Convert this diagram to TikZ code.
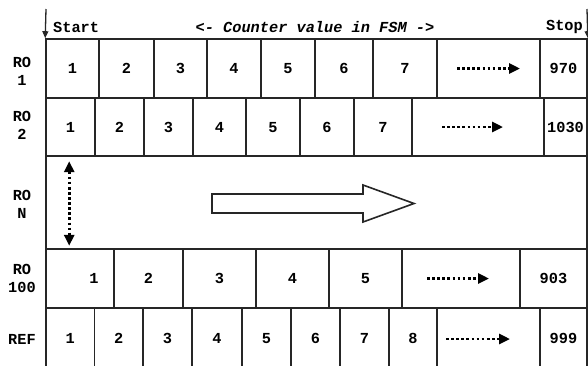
\documentclass[tikz,border=0pt]{standalone}
\usepackage{fontspec}
\setmonofont{Liberation Mono}
\usetikzlibrary{arrows.meta}

\begin{document}
\begin{tikzpicture}[x=1pt,y=1pt]
\tikzstyle{every node}+=[inner sep=0pt, font=\ttfamily\bfseries\fontsize{15.3}{18}\selectfont]
\tikzstyle{cell}=[draw=black!85, line width=1.6pt, minimum height=59, text height=10pt, text depth=0pt]
\tikzstyle{rowname}=[align=center]
\tikzstyle{dotarrow}=[black, line width=2.7pt, dash pattern=on 2.7pt off 2.4pt, -{Triangle[length=11pt,width=10pt]}]
\tikzstyle{startstop}=[black!85, line width=1.3pt, -{Triangle[length=7pt,width=6pt]}]
\useasboundingbox (0,0) rectangle (588,-365);
\fill [white] (0,0) rectangle (588,-365);
\node (start) [anchor=west] at (53,-27) {Start};
\node (title) at (315,-27) {\itshape <- Counter value in FSM ->};
\node (stop) [anchor=east] at (583,-27) {Stop};
\node (ro1) [rowname] at (22,-71) {RO\\1};
\node (ro2) [rowname] at (22,-125) {RO\\2};
\node (ron) [rowname] at (22,-204) {RO\\N};
\node (ro100) [rowname] at (22,-278) {RO\\100};
\node (ref) [rowname] at (22,-339) {REF};
\node (a1) [cell, minimum width=53] at (72.5,-68.5) {1};
\node (a2) [cell, minimum width=55] at (126.5,-68.5) {2};
\node (a3) [cell, minimum width=53] at (180.5,-68.5) {3};
\node (a4) [cell, minimum width=54] at (234,-68.5) {4};
\node (a5) [cell, minimum width=54] at (288,-68.5) {5};
\node (a6) [cell, minimum width=58] at (344,-68.5) {6};
\node (a7) [cell, minimum width=64] at (405,-68.5) {7};
\node (a8) [cell, minimum width=103] at (488.5,-68.5) {};
\node (a9) [cell, minimum width=47] at (563.5,-68.5) {970};
\node (b1) [cell, minimum width=49, minimum height=58] at (70.5,-127) {1};
\node (b2) [cell, minimum width=49, minimum height=58] at (119.5,-127) {2};
\node (b3) [cell, minimum width=49, minimum height=58] at (168.5,-127) {3};
\node (b4) [cell, minimum width=53, minimum height=58] at (219.5,-127) {4};
\node (b5) [cell, minimum width=54, minimum height=58] at (273,-127) {5};
\node (b6) [cell, minimum width=54, minimum height=58] at (327,-127) {6};
\node (b7) [cell, minimum width=58, minimum height=58] at (383,-127) {7};
\node (b8) [cell, minimum width=132, minimum height=58] at (478,-127) {};
\node (b9) [cell, minimum width=43, minimum height=58] at (565.5,-127) {1030};
\node (n1) [cell, minimum width=541, minimum height=93] at (316.5,-202.5) {};
\node (c1) [cell, minimum width=68] at (80,-278.5) {\hspace*{28pt}1};
\node (c2) [cell, minimum width=69] at (148.5,-278.5) {2};
\node (c3) [cell, minimum width=73] at (219.5,-278.5) {3};
\node (c4) [cell, minimum width=73] at (292.5,-278.5) {4};
\node (c5) [cell, minimum width=73] at (365.5,-278.5) {5};
\node (c6) [cell, minimum width=118] at (461,-278.5) {};
\node (c7) [cell, minimum width=67] at (553.5,-278.5) {903};
\node (d1) [cell, minimum width=48.5, minimum height=60] at (70.25,-338) {1};
\node (d2) [cell, minimum width=48.5, minimum height=60] at (118.75,-338) {2};
\node (d3) [cell, minimum width=49, minimum height=60] at (167.5,-338) {3};
\node (d4) [cell, minimum width=50, minimum height=60] at (217,-338) {4};
\node (d5) [cell, minimum width=49, minimum height=60] at (266.5,-338) {5};
\node (d6) [cell, minimum width=49, minimum height=60] at (315.5,-338) {6};
\node (d7) [cell, minimum width=49, minimum height=60] at (364.5,-338) {7};
\node (d8) [cell, minimum width=48, minimum height=60] at (413,-338) {8};
\node (d9) [cell, minimum width=103, minimum height=60] at (488.5,-338) {};
\node (d10) [cell, minimum width=47, minimum height=60] at (563.5,-338) {999};
\draw [black!85, line width=1.6pt] (212,-194) -- (363,-194) -- (363,-185) -- (414,-203.5)
  -- (363,-222) -- (363,-213) -- (212,-213) -- cycle;
\coordinate (tl) at (46,-9);
\coordinate (tr) at (587,-9);
\draw [startstop] (tl) -- (a1.north west);
\draw [startstop] (tr) -- (a9.north east);
\draw [dotarrow] ([xshift=-31.5]a8.center) -- ([xshift=31.5]a8.center);
\draw [dotarrow] ([xshift=-36]b8.center) -- ([xshift=25]b8.center);
\draw [dotarrow] ([xshift=-34]c6.center) -- ([xshift=28]c6.center);
\draw [dotarrow] ([xshift=-42.5,yshift=-1]d9.center) -- ([xshift=21.5,yshift=-1]d9.center);
\draw [dotarrow, {Triangle[length=11pt,width=10pt]}-{Triangle[length=11pt,width=10pt]}]
  ([xshift=24,yshift=-6]n1.north west) -- ([xshift=24,yshift=4]n1.south west);
\end{tikzpicture}
\end{document}
